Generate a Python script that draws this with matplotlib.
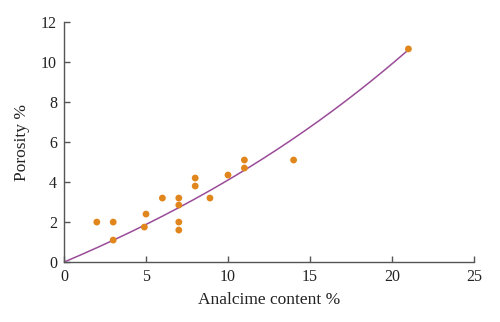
import matplotlib

matplotlib.use("Agg")

import matplotlib.pyplot as plt
import numpy as np

# analcime content (%) vs porosity (%)
analcime = [2, 3, 3, 4.9, 5, 6, 7, 7, 7, 7, 8, 8, 8.9, 10, 11, 11, 14, 21]
porosity = [2.0, 2.0, 1.1, 1.75, 2.4, 3.2, 3.2, 2.85, 2.0, 1.6, 4.2, 3.8, 3.2, 4.35, 5.1, 4.7, 5.1, 10.65]

# fitted trend through the origin: y = c1*x + c2*x^2 + c3*x^3
fit_coefs = [0.3482, 0.00498, 0.0001185]
fit_xmax = 21

plt.rcParams["font.family"] = ["Liberation Serif", "DejaVu Serif"]

fig = plt.figure(figsize=(5, 3.22), dpi=100)
ax = fig.add_axes([0.128, 0.186, 0.82, 0.746])

xs = np.linspace(0, fit_xmax, 200)
ys = sum(c * xs ** (i + 1) for i, c in enumerate(fit_coefs))
ax.plot(xs, ys, color="#9a4c98", linewidth=1.1, zorder=2)
ax.scatter(analcime, porosity, s=24, color="#e0861c", edgecolors="none", zorder=3)

ax.set_xlim(0, 25)
ax.set_ylim(0, 12)
ax.set_xticks(range(0, 26, 5))
ax.set_yticks(range(0, 13, 2))
ax.set_xlabel("Analcime content %", fontsize=12.5, color="#222222", labelpad=5)
ax.set_ylabel("Porosity %", fontsize=12.5, color="#222222", labelpad=8)

for side in ("top", "right"):
    ax.spines[side].set_visible(False)
for side in ("left", "bottom"):
    ax.spines[side].set_color("#555555")
    ax.spines[side].set_linewidth(1.0)
ax.tick_params(direction="in", length=4, width=1, color="#555555",
               labelsize=11.5, labelcolor="#222222", pad=5)

fig.savefig("out.png", dpi=100)
plt.close(fig)
